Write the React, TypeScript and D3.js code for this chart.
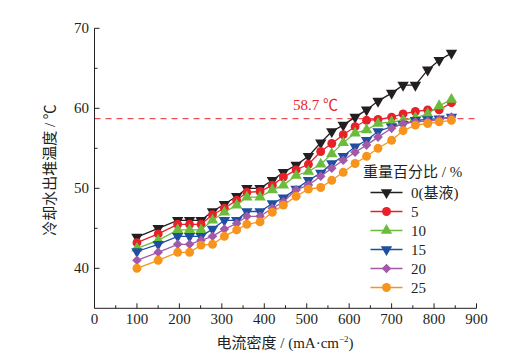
import React from 'react';
import * as d3 from 'd3';

// 电流密度 (mA/cm2)
const currents = [100, 150, 196, 224, 251, 278, 306, 335, 359, 390, 419, 445, 475, 504, 533, 559, 586, 614, 641, 668, 700, 727, 756, 785, 812, 841];

// 冷却水出堆温度 for each weight percent
const s0 = [43.9, 45.0, 46.0, 46.0, 46.0, 47.1, 48.0, 49.0, 50.0, 50.0, 51.0, 52.0, 52.9, 54.0, 55.7, 57.1, 57.9, 58.9, 59.8, 60.9, 61.9, 62.9, 62.9, 64.8, 66.0, 66.9];
const s5 = [43.2, 44.3, 45.5, 45.5, 45.5, 46.7, 47.5, 48.5, 49.5, 49.6, 50.4, 51.4, 52.3, 53.0, 54.6, 55.6, 56.7, 57.7, 58.5, 58.6, 58.9, 59.3, 59.6, 59.8, 59.8, 60.7];
const s10 = [42.5, 43.5, 44.8, 44.8, 44.8, 46.0, 47.0, 47.9, 48.9, 48.9, 49.8, 50.4, 51.6, 52.1, 53.0, 54.3, 55.7, 56.9, 57.3, 58.1, 58.3, 58.5, 58.8, 59.3, 60.3, 61.1];
const s15 = [42.1, 43.0, 44.0, 44.0, 44.0, 44.9, 46.0, 46.0, 47.1, 47.1, 48.1, 48.8, 49.9, 51.0, 51.9, 53.1, 54.0, 55.2, 56.0, 57.1, 57.7, 58.0, 58.5, 58.6, 58.7, 58.9];
const s20 = [41.0, 42.0, 43.0, 43.0, 43.5, 44.0, 44.9, 45.6, 46.5, 46.5, 47.5, 48.3, 49.8, 50.4, 51.5, 52.5, 53.5, 54.5, 55.4, 56.4, 57.5, 58.1, 58.3, 58.4, 58.6, 58.9];
const s25 = [40.0, 41.0, 42.0, 42.0, 42.9, 43.0, 44.0, 44.8, 45.5, 45.8, 47.0, 47.9, 49.0, 49.9, 50.1, 51.0, 52.0, 53.1, 54.0, 55.0, 56.0, 57.2, 57.9, 58.1, 58.3, 58.5];

const seriesLabels = ['0(基液)', '5', '10', '15', '20', '25'];
const xTicks = [0, 100, 200, 300, 400, 500, 600, 700, 800, 900];
const yTicks = [40, 50, 60, 70];
const refTemp = 58.7;

const series = [
  { values: s0, color: '#231f20', marker: 'down' },
  { values: s5, color: '#e8202a', marker: 'circle' },
  { values: s10, color: '#6cbb3c', marker: 'up' },
  { values: s15, color: '#1f4fa0', marker: 'down' },
  { values: s20, color: '#a25aa8', marker: 'diamond' },
  { values: s25, color: '#f7941d', marker: 'circle' },
];

const serif = { fontFamily: "'Liberation Serif', 'DejaVu Serif', serif" };
const cjk = { fontFamily: "'Liberation Serif', 'Noto Sans CJK SC', serif" };

const Marker = ({ type, x, y, color }: { type: string; x: number; y: number; color: string }) => {
  let sym: d3.SymbolType = d3.symbolCircle;
  let size = 62;
  let rot = 0;
  if (type === 'up') { sym = d3.symbolTriangle; size = 56; }
  if (type === 'down') { sym = d3.symbolTriangle; size = 56; rot = 180; }
  if (type === 'diamond') { sym = d3.symbolSquare; size = 46; rot = 45; }
  const path = d3.symbol().type(sym).size(size)() as string;
  return <path d={path} fill={color} transform={`translate(${x},${y}) rotate(${rot})`} />;
};

const App = () => {
  const width = 529;
  const height = 364;
  const x = d3.scaleLinear().domain([0, 900]).range([94.5, 476.5]);
  const y = d3.scaleLinear().domain([35, 70]).range([308.3, 28.3]);

  const line = d3
    .line<number>()
    .x((_, i) => x(currents[i]))
    .y((d) => y(d));

  const xMinor = d3.range(50, 900, 100);
  const yMinor = d3.range(45, 70, 10);

  return (
    <svg width={width} height={height} style={{ position: 'absolute', left: 0, top: 0 }}>
      <rect width={width} height={height} fill="#fff" />

      {/* 参考线 */}
      <line x1={x(0)} x2={478} y1={y(refTemp)} y2={y(refTemp)} stroke="#e8262b" strokeWidth={1} strokeDasharray="6,5" />
      <text x={293} y={110} fill="#e8262b" fontSize={15} style={cjk}>58.7 ℃</text>

      {/* 数据 */}
      {series.map((s, k) => (
        <g key={k}>
          <path d={line(s.values) as string} fill="none" stroke={s.color} strokeWidth={1.3} />
          {s.values.map((v, i) => (
            <Marker key={i} type={s.marker} x={x(currents[i])} y={y(v)} color={s.color} />
          ))}
        </g>
      ))}

      {/* 坐标轴 */}
      <g stroke="#231f20" strokeWidth={1} fill="none">
        <line x1={x(0)} x2={x(0)} y1={y(35)} y2={y(70)} />
        <line x1={x(0)} x2={x(900)} y1={y(35)} y2={y(35)} />
        {xTicks.map((t) => (
          <line key={t} x1={x(t)} x2={x(t)} y1={y(35)} y2={y(35) - 5} />
        ))}
        {xMinor.map((t) => (
          <line key={t} x1={x(t)} x2={x(t)} y1={y(35)} y2={y(35) - 3} />
        ))}
        {yTicks.map((t) => (
          <line key={t} x1={x(0)} x2={x(0) + 5} y1={y(t)} y2={y(t)} />
        ))}
        {yMinor.map((t) => (
          <line key={t} x1={x(0)} x2={x(0) + 3} y1={y(t)} y2={y(t)} />
        ))}
      </g>
      <g fontSize={15} fill="#231f20" style={serif}>
        {xTicks.map((t) => (
          <text key={t} x={x(t)} y={324} textAnchor="middle">{t}</text>
        ))}
        {yTicks.map((t) => (
          <text key={t} x={89} y={y(t) + 5} textAnchor="end">{t}</text>
        ))}
      </g>

      <text x={285} y={348} textAnchor="middle" fontSize={15} style={cjk} fill="#231f20">
        电流密度 / (mA·cm<tspan fontSize={9} dy={-6}>−2</tspan><tspan dy={6}>)</tspan>
      </text>
      <text transform="translate(55,170) rotate(-90)" textAnchor="middle" fontSize={15} style={cjk} fill="#231f20">
        冷却水出堆温度 / ℃
      </text>

      {/* 图例 */}
      <text x={363} y={177} fontSize={15} style={cjk} fill="#231f20">重量百分比 / %</text>
      {series.map((s, k) => {
        const ly = 192.5 + k * 19;
        return (
          <g key={k}>
            <line x1={370.5} x2={402.5} y1={ly} y2={ly} stroke={s.color} strokeWidth={1.3} />
            <Marker type={s.marker} x={386.5} y={ly} color={s.color} />
            <text x={411} y={ly + 5} fontSize={15} style={cjk} fill="#231f20">{seriesLabels[k]}</text>
          </g>
        );
      })}
    </svg>
  );
};

export default App;
